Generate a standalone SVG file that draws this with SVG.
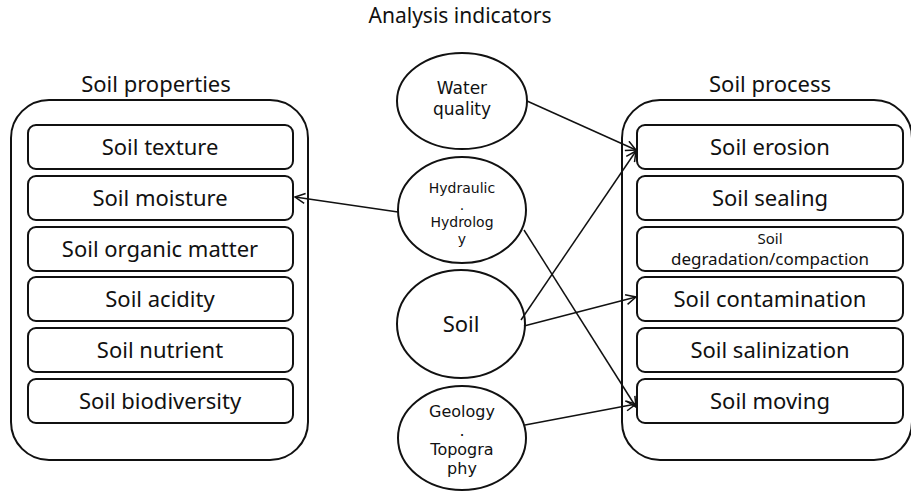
<svg xmlns="http://www.w3.org/2000/svg" width="911" height="494" viewBox="0 0 911 494">
<style>
text{font-family:"Noto Sans","Open Sans","DejaVu Sans",sans-serif;fill:#111;text-anchor:middle}
.dj{font-family:"DejaVu Sans","Noto Sans",sans-serif}
.outer{fill:#fff;stroke:#111;stroke-width:2}
.box{fill:#fff;stroke:#111;stroke-width:2}
.circ{fill:#fff;stroke:#111;stroke-width:2}
.bt{font-size:22px}
.hd{font-size:22px}
.conn line{stroke:#111;stroke-width:1.5;marker-end:url(#ah)}
</style>
<defs>
<marker id="ah" viewBox="0 0 12 12" refX="11" refY="6" markerWidth="12" markerHeight="12" markerUnits="userSpaceOnUse" orient="auto">
<path d="M1,1 L11,6 L1,11" fill="none" stroke="#111" stroke-width="1.5"/>
</marker>
</defs>
<rect width="911" height="494" fill="#fff"/>
<text id="title" x="460" y="23" font-size="21">Analysis indicators</text>
<g id="soil-properties">
<text x="156" y="92" class="hd">Soil properties</text>
<rect class="outer" x="11" y="100" width="297" height="360" rx="38"/>
</g>
<g id="sp-texture"><rect class="box" x="28" y="125" width="265" height="44" rx="8"/><text class="bt" x="160" y="155">Soil texture</text></g>
<g id="sp-moisture"><rect class="box" x="28" y="176" width="265" height="44" rx="8"/><text class="bt" x="160" y="206">Soil moisture</text></g>
<g id="sp-organic"><rect class="box" x="28" y="227" width="265" height="44" rx="8"/><text class="bt" x="160" y="257">Soil organic matter</text></g>
<g id="sp-acidity"><rect class="box" x="28" y="277" width="265" height="44" rx="8"/><text class="bt" x="160" y="307">Soil acidity</text></g>
<g id="sp-nutrient"><rect class="box" x="28" y="328" width="265" height="44" rx="8"/><text class="bt" x="160" y="358">Soil nutrient</text></g>
<g id="sp-biodiversity"><rect class="box" x="28" y="379" width="265" height="44" rx="8"/><text class="bt" x="160" y="409">Soil biodiversity</text></g>

<g id="soil-process">
<text x="770" y="92" class="hd">Soil process</text>
<rect class="outer" x="622" y="100" width="290" height="360" rx="38"/>
</g>
<g id="pr-erosion"><rect class="box" x="637" y="125" width="266" height="44" rx="8"/><text class="bt" x="770" y="155">Soil erosion</text></g>
<g id="pr-sealing"><rect class="box" x="637" y="176" width="266" height="44" rx="8"/><text class="bt" x="770" y="206">Soil sealing</text></g>
<g id="pr-degradation"><rect class="box" x="637" y="227" width="266" height="44" rx="8"/><text font-size="15"><tspan x="770" y="244">Soil</tspan><tspan x="770" y="265" font-size="17">degradation/compaction</tspan></text></g>
<g id="pr-contamination"><rect class="box" x="637" y="277" width="266" height="44" rx="8"/><text class="bt" x="770" y="307">Soil contamination</text></g>
<g id="pr-salinization"><rect class="box" x="637" y="328" width="266" height="44" rx="8"/><text class="bt" x="770" y="358">Soil salinization</text></g>
<g id="pr-moving"><rect class="box" x="637" y="379" width="266" height="44" rx="8"/><text class="bt" x="770" y="409">Soil moving</text></g>

<g id="ind-water"><ellipse class="circ" cx="462" cy="101" rx="65" ry="48"/><text class="dj" font-size="17"><tspan x="462" y="94">Water</tspan><tspan x="462" y="115">quality</tspan></text></g>
<g id="ind-hydraulic"><ellipse class="circ" cx="462" cy="210" rx="64" ry="53"/><text class="dj" font-size="14"><tspan x="462" y="193">Hydraulic</tspan><tspan x="462" y="210">.</tspan><tspan x="462" y="227">Hydrolog</tspan><tspan x="462" y="244">y</tspan></text></g>
<g id="ind-soil"><ellipse class="circ" cx="461" cy="324" rx="64" ry="54"/><text x="461" y="332" font-size="22">Soil</text></g>
<g id="ind-geology"><ellipse class="circ" cx="462" cy="438" rx="64" ry="52"/><text class="dj" font-size="16"><tspan x="462" y="417">Geology</tspan><tspan x="462" y="436">.</tspan><tspan x="462" y="455">Topogra</tspan><tspan x="462" y="474">phy</tspan></text></g>

<g id="connectors" class="conn">
<line x1="527" y1="101" x2="636" y2="150"/>
<line x1="398" y1="212" x2="295" y2="197"/>
<line x1="524" y1="230" x2="636" y2="407"/>
<line x1="521" y1="320" x2="636" y2="151"/>
<line x1="524" y1="326" x2="636" y2="297"/>
<line x1="525" y1="425" x2="636" y2="404"/>
</g>
</svg>
